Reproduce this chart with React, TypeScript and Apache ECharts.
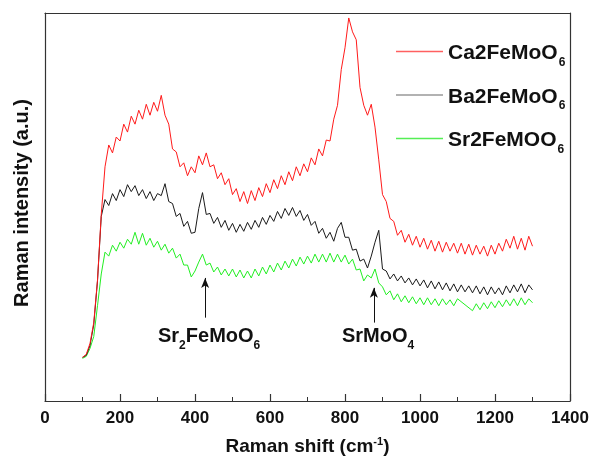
import React, { useEffect, useRef } from "react";
import * as echarts from "echarts";

const xs = [100,110,120,130,140,150,160,170,180,190,200,210,220,230,240,250,260,270,280,290,300,310,320,330,340,350,360,370,380,390,400,410,420,430,440,450,460,470,480,490,500,510,520,530,540,550,560,570,580,590,600,610,620,630,640,650,660,670,680,690,700,710,720,730,740,750,760,770,780,790,800,810,820,830,840,850,860,870,880,890,900,910,920,930,940,950,960,970,980,990,1000,1010,1020,1030,1040,1050,1060,1070,1080,1090,1100,1110,1120,1130,1140,1150,1160,1170,1180,1190,1200,1210,1220,1230,1240,1250,1260,1270,1280,1290,1300];

const caValues = [44,47,58,79,122,188,236,258,250,266,262,279,271,287,279,293,284,299,288,301,292,308,288,279,254,251,236,240,227,236,230,247,238,250,236,238,224,230,218,224,208,214,201,211,199,212,202,215,206,219,210,223,214,227,218,231,222,236,227,239,231,245,238,254,247,263,262,284,298,334,356,386,372,364,316,298,288,299,276,243,208,201,184,181,167,172,160,168,157,166,155,164,153,162,151,161,150,160,151,159,149,159,148,158,147,157,148,156,146,157,148,159,151,163,154,166,153,164,152,166,156];

const baValues = [44,46,56,77,121,186,203,197,209,202,213,206,218,211,217,207,213,204,211,202,209,207,219,201,199,186,189,176,181,169,170,194,210,188,189,179,185,175,182,172,179,170,178,171,180,173,182,175,185,178,187,181,191,184,194,187,195,186,192,182,188,177,181,169,174,164,170,161,174,180,165,165,152,153,141,143,134,146,160,172,133,131,123,128,121,126,119,124,117,123,116,122,114,121,113,120,112,119,111,118,110,117,110,116,109,116,108,115,107,115,108,114,107,116,109,117,110,118,109,117,112];

const srValues = [43,45,53,65,96,128,150,146,157,151,160,154,163,158,170,158,169,157,164,155,161,152,158,149,154,144,148,137,137,125,131,140,148,137,139,130,135,127,133,126,133,125,132,124,131,124,133,126,135,128,137,130,139,132,141,134,143,136,145,138,146,139,148,140,148,140,149,140,148,140,147,138,143,132,133,121,127,124,133,119,115,107,111,102,108,100,106,99,105,98,104,97,104,97,103,96,103,97,102,96,103,null,null,null,91,98,92,99,93,100,94,101,95,102,96,103,96,104,97,103,99];

const seriesNames = ["Ca2FeMoO6", "Ba2FeMoO6", "Sr2FeMOO6"];
const legendBase = ["Ca2FeMoO", "Ba2FeMoO", "Sr2FeMOO"];
const colors = ["#ff1a1a", "#1a1a1a", "#22ee22"];
const legendLineColors = ["#ff6060", "#999999", "#55ee55"];
const xTicks = [0, 200, 400, 600, 800, 1000, 1200, 1400];

// arrow annotations: [x, tipIntensity, tailIntensity]
const arrowSr2FeMoO6 = [427, 124, 84];
const arrowSrMoO4 = [877, 114, 79];

const FONT = "'Liberation Sans', Arial, sans-serif";

const big = (size: number) => ({ fontSize: size, fontWeight: "bold", color: "#111", fontFamily: FONT });

export default function App() {
  const ref = useRef<HTMLDivElement>(null);
  useEffect(() => {
    if (!ref.current) return;
    const chart = echarts.init(ref.current, undefined, { renderer: "svg" });
    const all = [caValues, baValues, srValues];
    const series: any[] = all.map((vals, k) => ({
      name: seriesNames[k],
      type: "line",
      data: xs.map((x, i) => [x, vals[i]]),
      showSymbol: false,
      symbol: "none",
      connectNulls: true,
      lineStyle: { color: colors[k], width: 1 },
      itemStyle: { color: colors[k] },
      z: 3 - k,
    }));
    series.push({
      type: "line",
      data: [],
      markLine: {
        silent: true,
        symbol: ["arrow", "none"],
        symbolSize: [6, 10],
        label: { show: false },
        lineStyle: { color: "#111", width: 1, type: "solid" },
        data: [arrowSr2FeMoO6, arrowSrMoO4].map((a) => [
          { coord: [a[0], a[1]] },
          { coord: [a[0], a[2]] },
        ]),
      },
    });
    const frameAxis = { show: true, onZero: false, lineStyle: { color: "#333", width: 1.2 } };
    chart.setOption({
      animation: false,
      textStyle: { fontFamily: FONT },
      grid: { left: 45, right: 22, top: 13, bottom: 56 },
      legend: {
        orient: "vertical",
        left: 391,
        top: 36,
        icon: "rect",
        itemWidth: 47,
        itemHeight: 1.5,
        itemGap: 17,
        data: seriesNames.map((n, k) => ({
          name: n,
          itemStyle: { color: legendLineColors[k] },
        })),
        formatter: (name: string) => {
          const k = seriesNames.indexOf(name);
          return `{a|${legendBase[k]}}{b|6}`;
        },
        textStyle: {
          rich: {
            a: big(21),
            b: { ...big(12), padding: [20, 0, 0, 1] },
          },
        },
      },
      xAxis: [
        {
          type: "value",
          min: 0,
          max: 1400,
          interval: 200,
          name: "{a|Raman shift (cm}{s|-1}{a|)}",
          nameLocation: "middle",
          nameGap: 34,
          nameTextStyle: {
            rich: {
              a: big(19),
              s: { ...big(11), padding: [0, 0, 10, 0] },
            },
          },
          axisLine: { onZero: false, lineStyle: { color: "#333", width: 1.2 } },
          axisTick: { inside: true, length: 7, lineStyle: { color: "#333", width: 1.2 } },
          minorTick: { show: true, splitNumber: 2, length: 4, lineStyle: { color: "#333", width: 1 } },
          splitLine: { show: false },
          axisLabel: {
            fontSize: 17,
            fontWeight: "bold",
            color: "#111",
            margin: 8,
            formatter: (v: number) => (xTicks.includes(v) ? String(v) : ""),
          },
        },
        {
          type: "value",
          position: "top",
          min: 0,
          max: 1400,
          axisLine: frameAxis,
          axisTick: { show: false },
          axisLabel: { show: false },
          splitLine: { show: false },
        },
      ],
      yAxis: [
        {
          type: "value",
          min: 0,
          max: 391,
          axisLine: frameAxis,
          axisTick: { show: false },
          axisLabel: { show: false },
          splitLine: { show: false },
        },
        {
          type: "value",
          position: "right",
          min: 0,
          max: 391,
          axisLine: frameAxis,
          axisTick: { show: false },
          axisLabel: { show: false },
          splitLine: { show: false },
        },
      ],
      graphic: [
        {
          type: "text",
          x: 21,
          y: 203,
          rotation: Math.PI / 2,
          style: {
            text: "Raman intensity (a.u.)",
            fontSize: 20,
            fontWeight: "bold",
            fontFamily: FONT,
            fill: "#111",
            align: "center",
            verticalAlign: "middle",
          },
        },
        {
          type: "text",
          left: 158,
          top: 325,
          style: {
            text: "{a|Sr}{b|2}{a|FeMoO}{b|6}",
            rich: {
              a: { ...big(20), fill: "#111" },
              b: { ...big(12), fill: "#111", padding: [20, 0, 0, 0] },
            },
          },
        },
        {
          type: "text",
          left: 342,
          top: 325,
          style: {
            text: "{a|SrMoO}{b|4}",
            rich: {
              a: { ...big(20), fill: "#111" },
              b: { ...big(12), fill: "#111", padding: [20, 0, 0, 0] },
            },
          },
        },
      ],
      series,
    });
    return () => chart.dispose();
  }, []);
  return (
    <div
      ref={ref}
      style={{ position: "fixed", left: 0, top: 0, width: 592, height: 460 }}
    />
  );
}
